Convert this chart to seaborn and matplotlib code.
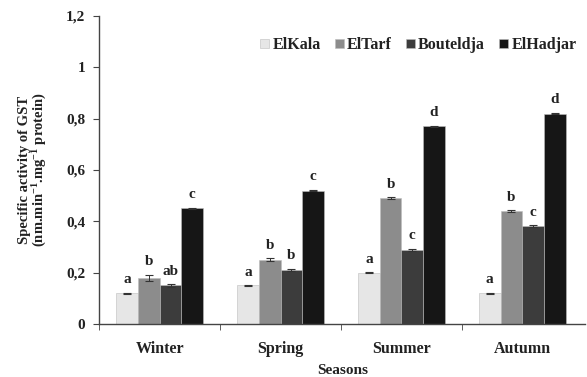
import pandas as pd
import matplotlib
matplotlib.use("Agg")
import matplotlib.pyplot as plt
import seaborn as sns
from matplotlib.ticker import FuncFormatter, FixedLocator

seasons = ["Winter", "Spring", "Summer", "Autumn"]
sites = ["ElKala", "ElTarf", "Bouteldja", "ElHadjar"]

# values per site, in season order
el_kala = [0.12, 0.15, 0.20, 0.12]
el_tarf = [0.18, 0.25, 0.49, 0.44]
bouteldja = [0.15, 0.21, 0.29, 0.38]
el_hadjar = [0.45, 0.52, 0.77, 0.82]

err_kala = [0.002, 0.002, 0.002, 0.002]
err_tarf = [0.012, 0.006, 0.004, 0.004]
err_bout = [0.006, 0.005, 0.004, 0.004]
err_hadj = [0.003, 0.003, 0.003, 0.003]

let_kala = ["a", "a", "a", "a"]
let_tarf = ["b", "b", "b", "b"]
let_bout = ["ab", "b", "c", "c"]
let_hadj = ["c", "c", "d", "d"]

colors = ["#e6e6e6", "#8c8c8c", "#3c3c3c", "#161616"]

rows = []
for site, vals, errs, lets in zip(sites,
                                  [el_kala, el_tarf, bouteldja, el_hadjar],
                                  [err_kala, err_tarf, err_bout, err_hadj],
                                  [let_kala, let_tarf, let_bout, let_hadj]):
    for s, v, e, l in zip(seasons, vals, errs, lets):
        rows.append({"season": s, "site": site, "value": v, "err": e, "letter": l})
df = pd.DataFrame(rows)

sns.set_style("white")
plt.rcParams["font.family"] = ["Liberation Serif", "DejaVu Serif"]
plt.rcParams["font.weight"] = "bold"
plt.rcParams["mathtext.fontset"] = "custom"
plt.rcParams["mathtext.rm"] = "Liberation Serif:bold"
plt.rcParams["mathtext.bf"] = "Liberation Serif:bold"
plt.rcParams["mathtext.default"] = "bf"

fig = plt.figure(figsize=(5.87, 3.77), dpi=100)
ax = fig.add_axes([0.169, 0.1406, 0.828, 0.817])

sns.barplot(data=df, x="season", y="value", hue="site", order=seasons,
            hue_order=sites, palette=colors, width=0.72, ax=ax,
            edgecolor="#bdbdbd", linewidth=0.4, errorbar=None)

# error bars and letters from the drawn bars
for cont, site in zip(ax.containers, sites):
    sub = df[df["site"] == site].set_index("season").loc[seasons]
    for bar, v, e, l in zip(cont, sub["value"], sub["err"], sub["letter"]):
        xc = bar.get_x() + bar.get_width() / 2
        ax.errorbar(xc, v, yerr=e, fmt="none", ecolor="#333333",
                    elinewidth=0.7, capsize=3, capthick=0.8)
        ax.text(xc, v + e + 0.025, l, ha="center", va="bottom",
                fontsize=11, fontweight="bold", color="#222222")

ax.set_ylim(0, 1.2)
ax.set_xlim(-0.5, 3.52)
ax.set_yticks([0, 0.2, 0.4, 0.6, 0.8, 1.0, 1.2])
ax.yaxis.set_major_formatter(FuncFormatter(
    lambda v, p: ("%g" % round(v, 1)).replace(".", ",")))
ax.tick_params(axis="y", labelsize=11, length=4, direction="out",
               left=True, color="#444444", pad=6)
ax.tick_params(axis="x", which="major", length=0, labelsize=11.5, pad=12)
ax.xaxis.set_minor_locator(FixedLocator([-0.5, 0.5, 1.5, 2.5]))
ax.tick_params(axis="x", which="minor", length=4, direction="out",
               bottom=True, color="#444444")
for lab in ax.get_xticklabels() + ax.get_yticklabels():
    lab.set_fontweight("bold")
    lab.set_color("#222222")

sns.despine(ax=ax)
for sp in ["left", "bottom"]:
    ax.spines[sp].set_color("#444444")
    ax.spines[sp].set_linewidth(1.0)

ax.set_xlabel("Seasons", fontsize=11, fontweight="bold", color="#222222", labelpad=5)
ax.set_ylabel("Specific activity of GST\n(nm.min$^{-1}$.mg$^{-1}$ protein)",
              fontsize=10.5, fontweight="bold", color="#222222", labelpad=12,
              linespacing=1.0)

leg = ax.legend(loc="center right", bbox_to_anchor=(0.995, 0.905), ncol=4,
                frameon=False, fontsize=11.5, handlelength=0.55, handleheight=0.55,
                handletextpad=0.2, columnspacing=0.9, borderaxespad=0)
for t in leg.get_texts():
    t.set_fontweight("bold")
    t.set_color("#222222")

fig.savefig("out.png", dpi=100)
